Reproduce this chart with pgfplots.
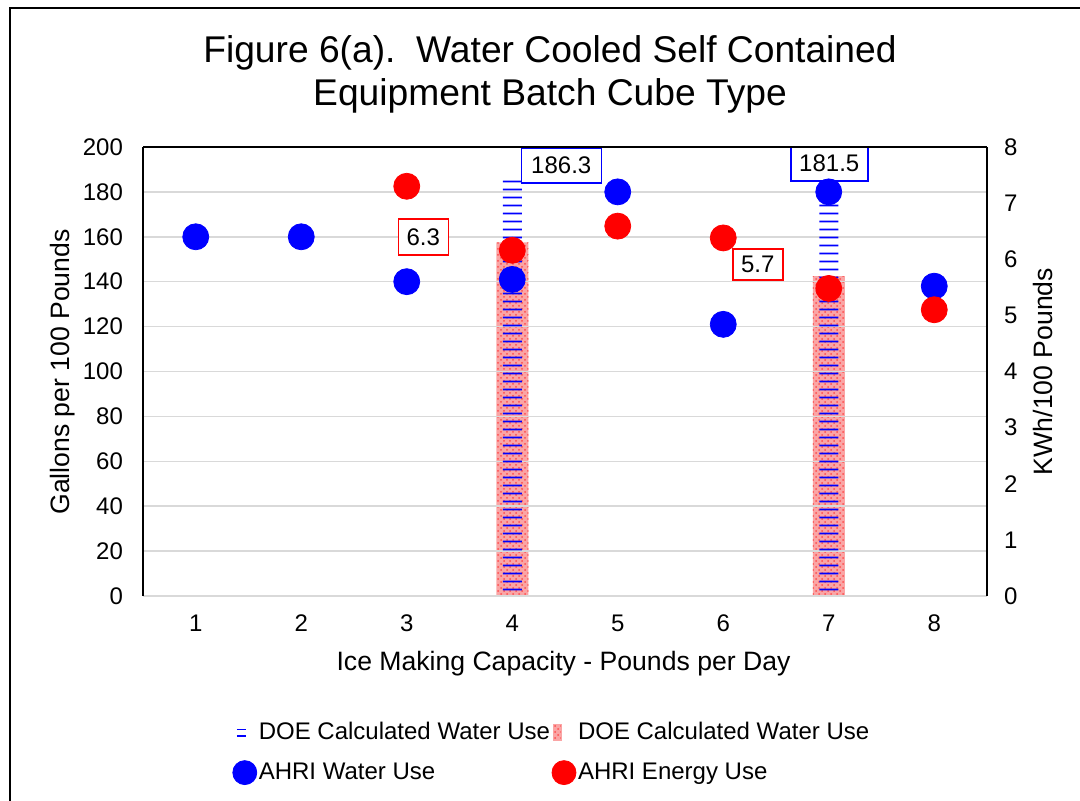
\documentclass[border=0pt]{standalone}
\usepackage{fontspec}
\setmainfont{Liberation Sans}
\usepackage{pgfplots}
\pgfplotsset{compat=1.18}
\usetikzlibrary{patterns}
\pgfdeclarepatternformonly{hlinesA}{\pgfpoint{0pt}{0pt}}{\pgfpoint{10pt}{4pt}}{\pgfpoint{10pt}{4pt}}{%
  \pgfsetlinewidth{1pt}%
  \pgfpathmoveto{\pgfpoint{-1pt}{2pt}}\pgfpathlineto{\pgfpoint{11pt}{2pt}}\pgfusepath{stroke}}
\definecolor{gridgray}{RGB}{217,217,217}
\definecolor{pinkbar}{RGB}{250,165,165}
\newcommand{\tf}{\fontsize{12pt}{14.4pt}\selectfont}
\newcommand{\lf}{\fontsize{13.3pt}{16pt}\selectfont}
\newcommand{\ttl}{\fontsize{18.6pt}{22pt}\selectfont}

\begin{document}
\begin{tikzpicture}
\useasboundingbox (0,0) rectangle (540pt,400.5pt);
\draw[black, line width=1pt] (5pt,0) -- (5pt,396.5pt) -- (540pt,396.5pt);
\pgfplotsset{
  base/.style={
    at={(71.5pt,102.5pt)}, anchor=south west, scale only axis,
    width=422pt, height=224.5pt,
    xmin=0.5, xmax=8.5,
    /pgf/number format/assume math mode=true,
    tick label style={font=\tf},
    major tick length=0pt,
  }
}
% right-scale bars (energy, behind the grid)
\begin{axis}[base, ymin=0, ymax=8, hide axis]
\addplot[ybar, bar width=16pt, bar shift=0pt, draw=none, fill=pinkbar,
  postaction={pattern=crosshatch dots, pattern color=red!70}]
  coordinates {(4,6.3) (7,5.7)};
\end{axis}
% left axis: gallons
\begin{axis}[base, ymin=0, ymax=200, ytick={0,20,...,200}, xtick={1,...,8},
  axis y line*=left, axis x line*=bottom,
  x axis line style={gridgray, line width=0.75pt},
  y axis line style={black, line width=0.75pt},
  ymajorgrids, grid style={gridgray, line width=0.75pt},
  yticklabel style={xshift=-6.5pt}, xticklabel style={yshift=-6pt}]
\addplot[ybar, bar width=9.5pt, bar shift=0pt, draw=none,
  pattern=hlinesA, pattern color=blue]
  coordinates {(4,186.3) (7,181.5)};
\addplot[only marks, mark=*, mark size=6.5pt, blue, mark options={draw=blue, fill=blue}]
  coordinates {(1,160) (2,160) (3,140) (4,141) (5,180) (6,121) (7,180) (8,138)};
\node[draw=blue, line width=0.75pt, fill=white, font=\tf, minimum width=40pt, minimum height=17.5pt, inner sep=0pt,
  xshift=24.5pt, yshift=6.1pt] at (axis cs:4,186.3) {186.3};
\node[draw=blue, line width=0.75pt, fill=white, font=\tf, minimum width=38.5pt, minimum height=17.5pt, inner sep=0pt,
  xshift=0.25pt, yshift=12.5pt] at (axis cs:7,181.5) {181.5};
\end{axis}
% right axis: energy
\begin{axis}[base, ymin=0, ymax=8, ytick={0,1,...,8}, xtick=\empty,
  axis y line*=right, axis x line*=top,
  axis line style={black, line width=0.75pt},
  yticklabel style={xshift=5pt},
  legend columns=2,
  legend cell align=left,
  legend style={at={(0.4846,-0.263)}, anchor=north, draw=none, fill=none,
    font=\tf, nodes={inner xsep=1pt}, row sep=6pt,
    /tikz/every even column/.append style={column sep=0pt}}]
\addlegendimage{legend image code/.code={
  \draw[blue, line width=0.9pt] (2pt,1.6pt) -- (6.5pt,1.6pt) (2pt,-1.6pt) -- (6.5pt,-1.6pt);
  \path[draw=none, fill=none] (0pt,0pt) -- (12pt,0pt);}}
\addlegendimage{legend image code/.code={
  \fill[pinkbar, draw=none, postaction={pattern=crosshatch dots, pattern color=red!70}] (0.5pt,-4pt) rectangle (4.5pt,4pt);
  \path[draw=none, fill=none] (0pt,0pt) -- (12pt,0pt);}}
\addlegendimage{legend image code/.code={
  \draw[blue, fill=blue] plot[mark=*, mark size=6pt] coordinates {(6pt,0pt)};}}
\addplot[only marks, mark=*, mark size=6.5pt, red, mark options={draw=red, fill=red},
  legend image code/.code={\draw[red, fill=red] plot[mark=*, mark size=6pt] coordinates {(6pt,0pt)};}]
  coordinates {(3,7.3) (4,6.16) (5,6.59) (6,6.38) (7,5.48) (8,5.10)};
\legend{DOE Calculated Water Use, DOE Calculated Water Use, AHRI Water Use, AHRI Energy Use}
\node[draw=red, line width=0.75pt, fill=white, font=\tf, minimum width=25pt, minimum height=18pt, inner sep=0pt,
  xshift=-44.5pt, yshift=2.7pt] at (axis cs:4,6.3) {6.3};
\node[draw=red, line width=0.75pt, fill=white, font=\tf, minimum width=25pt, minimum height=15.5pt, inner sep=0pt,
  xshift=-35.5pt, yshift=5.75pt] at (axis cs:7,5.7) {5.7};
\end{axis}
\node[anchor=base, font=\ttl] at (275pt,369pt) {Figure 6(a).\ \ Water Cooled Self Contained};
\node[anchor=base, font=\ttl] at (275pt,347.5pt) {Equipment Batch Cube Type};
\node[anchor=base, font=\lf] at (281.75pt,65.25pt) {Ice Making Capacity - Pounds per Day};
\node[anchor=base, font=\lf, rotate=90] at (34.75pt,214.5pt) {Gallons per 100 Pounds};
\node[anchor=base, font=\lf, rotate=90] at (526.25pt,214.75pt) {KWh/100 Pounds};
\end{tikzpicture}
\end{document}
